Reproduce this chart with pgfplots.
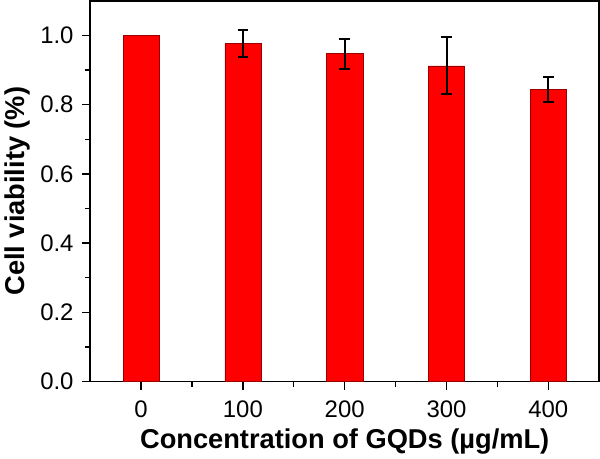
\documentclass[border=0pt]{standalone}
\usepackage{pgfplots}
\pgfplotsset{compat=1.18}
\usepackage{fontspec}
\setmainfont{Liberation Sans}
\begin{document}
\begin{tikzpicture}
\begin{axis}[
  scale only axis,
  width=383pt, height=286.5pt,
  xmin=-0.5, xmax=4.5,
  ymin=0, ymax=1.1,
  xtick={0,1,2,3,4},
  xticklabels={0,100,200,300,400},
  minor xtick={0.5,1.5,2.5,3.5},
  ytick={0,0.2,0.4,0.6,0.8,1.0},
  minor ytick={0.1,0.3,0.5,0.7,0.9},
  /pgf/number format/fixed,
  /pgf/number format/fixed zerofill,
  /pgf/number format/precision=1,
  /pgf/number format/assume math mode=true,
  tick align=outside,
  xtick pos=bottom, ytick pos=left,
  major tick length=6pt, minor tick length=4pt,
  tick style={line width=1pt, black},
  axis line style={line width=1.2pt},
  ticklabel style={font=\fontsize{18}{20}\selectfont},
  xlabel={\textbf{Concentration of GQDs (µg/mL)}},
  ylabel={\textbf{Cell viability (\%)}},
  label style={font=\fontsize{20.5}{22}\selectfont},
  xlabel style={yshift=-1pt},
  ylabel style={yshift=1pt},
  xticklabel style={yshift=-5pt},
  yticklabel style={xshift=-3pt},
]
\addplot[ybar, bar width=0.355, fill=red, draw=red!60!black, line width=0.4pt]
  coordinates {(0,1.000)};
\addplot[ybar, bar width=0.355, fill=red, draw=red!60!black, line width=0.4pt,
  error bars/.cd, y dir=both, y explicit,
  error bar style={line width=1.5pt, black},
  error mark options={rotate=90, mark size=4pt, line width=1.5pt, black}]
  coordinates {
  (1,0.977) +- (0,0.039)
  (2,0.947) +- (0,0.044)
  (3,0.912) +- (0,0.082)
  (4,0.844) +- (0,0.037)
};
\end{axis}
\end{tikzpicture}
\end{document}
